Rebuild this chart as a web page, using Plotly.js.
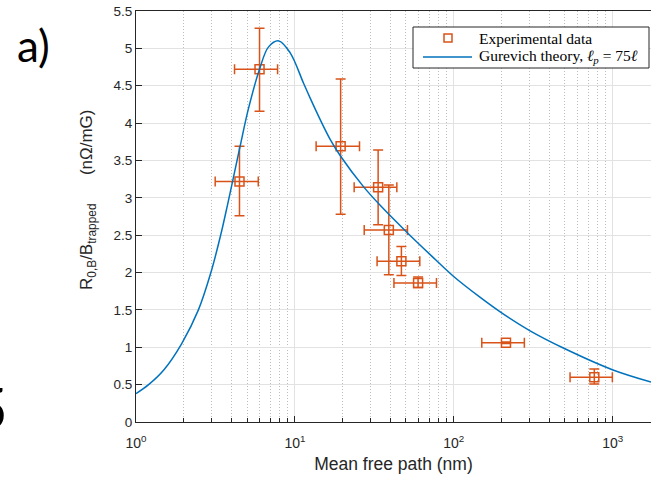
<!DOCTYPE html>
<html>
<head>
<meta charset="utf-8">
<script src="https://cdn.plot.ly/plotly-3.0.1.min.js"></script>
<style>html,body{margin:0;padding:0;background:#fff;}#chart{width:651px;height:483px;}</style>
</head>
<body>
<div id="chart"></div>
<script>
// Experimental data (mean free path in nm, R/B in nOhm/mG)
const expX  = [4.48, 5.99, 19.4, 33.4, 39.0, 46.8, 59.6, 213, 766];
const expY  = [3.22, 4.72, 3.69, 3.14, 2.57, 2.15, 1.86, 1.06, 0.60];
const xLow  = [3.15, 4.17, 13.6, 23.6, 27.3, 32.9, 42.0, 150, 539];
const xHigh = [5.88, 7.78, 25.5, 43.8, 51.1, 61.1, 77.8, 278, 995];
const yLow  = [2.76, 4.16, 2.78, 2.64, 1.97, 1.96, 1.80, 1.05, 0.51];
const yHigh = [3.69, 5.27, 4.59, 3.64, 3.17, 2.35, 1.94, 1.07, 0.71];

// Gurevich theory curve
const curveX = [1.00, 1.20, 1.5, 1.94, 2.47, 2.96, 3.41, 3.77, 4.11, 4.53, 5.11, 5.99, 6.83, 7.92, 9.34, 11.3, 12.5, 14.4, 16.7, 19.5, 27, 34.4, 50.6, 71, 99.4, 146, 200, 302, 489, 995, 1742];
const curveY = [0.38, 0.50, 0.70, 1.05, 1.50, 2.00, 2.50, 2.91, 3.28, 3.70, 4.20, 4.72, 5.02, 5.10, 4.94, 4.54, 4.33, 4.05, 3.78, 3.55, 3.15, 2.90, 2.54, 2.24, 1.95, 1.67, 1.46, 1.22, 0.99, 0.70, 0.535];

const xTickVals = [1, 10, 100, 1000];
const xTickText = ['10<sup>0</sup>', '10<sup>1</sup>', '10<sup>2</sup>', '10<sup>3</sup>'];
const yTickVals = [0, 0.5, 1, 1.5, 2, 2.5, 3, 3.5, 4, 4.5, 5, 5.5];
const yTickText = ['0', '0.5', '1', '1.5', '2', '2.5', '3', '3.5', '4', '4.5', '5', '5.5'];

const legendNames = ['Experimental data', 'Gurevich theory, <i>ℓ<sub>p</sub></i> = 75<i>ℓ</i>'];

const orange = '#D95319';
const blue = '#0072BD';
const axisCol = '#262626';

// plot-area geometry in pixels (for placing decorations)
const W = 651, H = 483, mL = 136, mR = 0, mT = 11, mB = 61;
const pw = W - mL - mR, ph = H - mT - mB;
const px = v => (v - mL) / pw;           // pixel x -> paper
const py = v => (H - mB - v) / ph;       // pixel y -> paper

const traces = [
  {
    type: 'scatter', mode: 'markers', name: legendNames[0], showlegend: false,
    x: expX, y: expY,
    marker: {symbol: 'square-open', size: 9, color: orange, line: {width: 1.5, color: orange}},
    error_x: {type: 'data', symmetric: false,
      array: xHigh.map((v, i) => v - expX[i]),
      arrayminus: xLow.map((v, i) => expX[i] - v),
      color: orange, thickness: 1.5, width: 5},
    error_y: {type: 'data', symmetric: false,
      array: yHigh.map((v, i) => v - expY[i]),
      arrayminus: yLow.map((v, i) => expY[i] - v),
      color: orange, thickness: 1.5, width: 5}
  },
  {
    type: 'scatter', mode: 'lines', name: legendNames[1], showlegend: false,
    x: curveX, y: curveY,
    line: {color: blue, width: 1.5, shape: 'spline', smoothing: 1, simplify: false}
  }
];

const legendFont = {family: 'Liberation Serif, DejaVu Serif, serif', size: 15.5, color: '#000'};

const layout = {
  width: W, height: H,
  margin: {l: mL, r: mR, t: mT, b: mB},
  paper_bgcolor: '#ffffff', plot_bgcolor: '#ffffff',
  font: {family: 'Liberation Sans, Arial, sans-serif', size: 13, color: axisCol},
  showlegend: false,
  xaxis: {
    type: 'log', range: [0, 3.241],
    tickmode: 'array', tickvals: xTickVals, ticktext: xTickText,
    ticks: 'inside', ticklen: 6, tickcolor: axisCol, tickwidth: 1,
    ticklabelstandoff: 8,
    showline: true, linecolor: axisCol, linewidth: 1, mirror: true,
    showgrid: true, gridcolor: '#e2e2e2', gridwidth: 1,
    zeroline: false,
    tickfont: {size: 14},
    minor: {dtick: 'D1', ticks: 'inside', ticklen: 4, tickcolor: axisCol,
            showgrid: true, gridcolor: '#bdbdbd', griddash: '1px,2px', gridwidth: 1},
    title: {text: 'Mean free path (nm)', font: {size: 17.5}, standoff: 7}
  },
  yaxis: {
    range: [0, 5.5],
    tickmode: 'array', tickvals: yTickVals, ticktext: yTickText,
    ticks: 'inside', ticklen: 6, tickcolor: axisCol, tickwidth: 1,
    showline: true, linecolor: axisCol, linewidth: 1,
    showgrid: true, gridcolor: '#e2e2e2', gridwidth: 1,
    zeroline: false,
    tickfont: {size: 13.5}
  },
  shapes: [
    // legend box
    {type: 'rect', xref: 'paper', yref: 'paper', x0: px(413), x1: px(649), y0: py(27), y1: py(68),
     line: {color: axisCol, width: 1}, fillcolor: '#ffffff', layer: 'above'},
    // legend marker sample
    {type: 'rect', xref: 'paper', yref: 'paper', xsizemode: 'pixel', ysizemode: 'pixel',
     xanchor: px(448), yanchor: py(38), x0: -4, x1: 4, y0: -4, y1: 4,
     line: {color: orange, width: 1.5}, fillcolor: 'rgba(0,0,0,0)', layer: 'above'},
    // legend line sample
    {type: 'line', xref: 'paper', yref: 'paper', x0: px(423), x1: px(472), y0: py(57), y1: py(57),
     line: {color: blue, width: 1.5}, layer: 'above'}
  ],
  annotations: [
    {xref: 'paper', yref: 'paper', x: px(477), y: py(38), xanchor: 'left', yanchor: 'middle',
     text: legendNames[0], showarrow: false, font: legendFont},
    {xref: 'paper', yref: 'paper', x: px(477), y: py(57), xanchor: 'left', yanchor: 'middle',
     text: legendNames[1], showarrow: false, font: legendFont},
    {xref: 'paper', yref: 'paper', x: px(88), y: py(200), xanchor: 'center', yanchor: 'middle',
     text: 'R<sub>0,B</sub>/B<sub>trapped</sub>      (nΩ/mG)', textangle: -90, showarrow: false,
     font: {size: 17, color: axisCol}},
    {xref: 'paper', yref: 'paper', x: px(33), y: py(45), xanchor: 'center', yanchor: 'middle',
     text: 'a)', showarrow: false, font: {family: 'Lato, Open Sans, sans-serif', size: 44, color: '#000'}},
    {xref: 'paper', yref: 'paper', x: px(10), y: py(407), xanchor: 'right', yanchor: 'middle',
     text: '5', showarrow: false, font: {family: 'Lato, Open Sans, sans-serif', size: 58, color: '#000'}}
  ]
};

Plotly.newPlot('chart', traces, layout, {displayModeBar: false, staticPlot: true});
</script>
</body>
</html>
